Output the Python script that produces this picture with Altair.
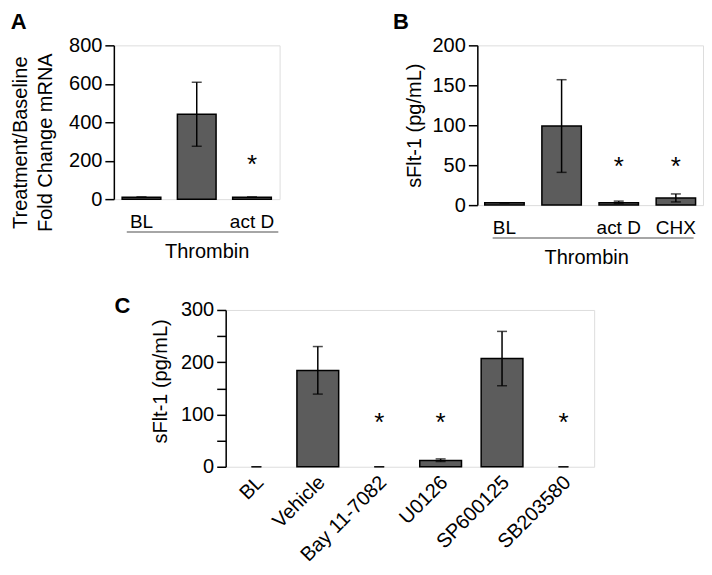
import altair as alt
import pandas as pd

FONT = "Liberation Sans"
BAR_FILL = "#5c5c5c"

# ---------------- Panel A data ----------------
a_cats = ["BL", "Thrombin", "act D"]
a_vals = [10, 441, 10]
a_lo = [10, 275, 10]
a_hi = [10, 608, 10]
a_sig = [False, False, True]
a_star = 195

# ---------------- Panel B data ----------------
b_cats = ["BL", "Thrombin", "act D", "CHX"]
b_vals = [3, 99, 3, 9]
b_lo = [3, 41, 2, 4]
b_hi = [3, 157, 5, 14]
b_sig = [False, False, True, True]
b_star = 52

# ---------------- Panel C data ----------------
c_cats = ["BL", "Vehicle", "Bay 11-7082", "U0126", "SP600125", "SB203580"]
c_vals = [0, 184, 0, 12, 207, 0]
c_lo = [0, 139, 0, 10, 155, 0]
c_hi = [0, 230, 0, 15, 259, 0]
c_sig = [False, False, True, True, False, True]
c_star = 90


def panel(cats, vals, lo, hi, sig, star_level, ymax, tick_vals, label_vals,
          width, height, pad_in, pad_out, ytitle, ytitle_pad, letter, letter_dx,
          letter_offset, rotated=False, group_label=None, ytitle_y=None,
          title_x=None, span=(0.1, 1.0), span_extra=0):
    df = pd.DataFrame({"cat": cats, "value": vals, "lo": lo, "hi": hi,
                       "sig": sig,
                       "star": [star_level if s else None for s in sig]})
    xscale = alt.Scale(domain=cats, paddingInner=pad_in, paddingOuter=pad_out)
    yscale = alt.Scale(domain=[0, ymax], nice=False)

    xaxis_kw = dict(domain=False, ticks=False, labelFontSize=19,
                    labelColor="black", labelFont=FONT, labelOverlap=False)
    if rotated:
        xaxis_kw.update(labelAngle=-45, labelAlign="right", labelBaseline="top",
                        labelPadding=5, labelOffset=-3, labelFontSize=20,
                        title=None)
    else:
        xaxis_kw.update(labelAngle=0, labelPadding=13,
                        labelExpr="datum.label == 'Thrombin' ? '' : datum.label")
        if group_label:
            xaxis_kw.update(title=group_label, titleFontSize=20,
                            titleFontWeight="normal", titleColor="black",
                            titlePadding=10, titleFont=FONT)
            if title_x is not None:
                xaxis_kw["titleX"] = title_x
        else:
            xaxis_kw.update(title=None)
    xaxis = alt.Axis(**xaxis_kw)

    label_expr = "indexof([" + ",".join(str(v) for v in label_vals) + "], datum.value) >= 0 ? datum.label : ''"
    yaxis_kw = dict(values=tick_vals, labelExpr=label_expr, grid=False,
                    labelOverlap=False,
                    domainColor="black", domainWidth=1.5, tickColor="black",
                    tickWidth=1.5, tickSize=9, labelFontSize=20,
                    labelColor="black", labelPadding=3, labelFont=FONT,
                    title=ytitle, titleFontSize=20, titleFontWeight="normal",
                    titleColor="black", titlePadding=ytitle_pad,
                    titleFont=FONT, titleLineHeight=25)
    if ytitle_y is not None:
        yaxis_kw["titleY"] = ytitle_y
    yaxis = alt.Axis(**yaxis_kw)

    def Y(field):
        return alt.Y(field, scale=yscale, axis=yaxis)

    base = alt.Chart(df).encode(x=alt.X("cat:N", scale=xscale, axis=xaxis))

    bars = base.transform_filter("datum.value > 0").mark_bar(
        fill=BAR_FILL, stroke="black", strokeWidth=1.5
    ).encode(y=Y("value:Q"))

    err = base.mark_rule(color="black", strokeWidth=1.5).encode(
        y=Y("lo:Q"), y2="hi:Q")
    cap_lo = base.mark_tick(color="black", thickness=1.5, size=10,
                            orient="horizontal").encode(y=Y("lo:Q"))
    cap_hi = base.mark_tick(color="black", thickness=1.5, size=10,
                            orient="horizontal").encode(y=Y("hi:Q"))
    stars = base.transform_filter("datum.sig").mark_text(
        text="*", fontSize=26, font=FONT, color="black", baseline="middle", dy=3
    ).encode(y=Y("star:Q"))

    layers = [bars, err, cap_lo, cap_hi, stars]

    if group_label:
        span_df = pd.DataFrame({"start": [cats[0]], "end": [cats[-1]]})
        line = alt.Chart(span_df).mark_rule(
            color="#888888", strokeWidth=1.5, x2Offset=span_extra
        ).encode(
            x=alt.X("start:N", scale=xscale, axis=xaxis, bandPosition=span[0]),
            x2=alt.X2("end:N", bandPosition=span[1]),
            y=alt.value(height + 33),
        )
        layers.append(line)

    return alt.layer(*layers).properties(
        width=width, height=height,
        title=alt.TitleParams(letter, anchor="start", frame="bounds",
                              fontSize=22, fontWeight="bold", font=FONT,
                              color="black", dx=letter_dx, offset=letter_offset),
    )


A = panel(a_cats, a_vals, a_lo, a_hi, a_sig, a_star, 800,
          [0, 200, 400, 600, 800], [0, 200, 400, 600, 800],
          166, 154, 0.3, 0.15, ["Treatment/Baseline", "Fold Change mRNA"], 13,
          "A", 0, 1, group_label="Thrombin", ytitle_y=97, title_x=93,
          span=(0.12, 1.0), span_extra=7)

B = panel(b_cats, b_vals, b_lo, b_hi, b_sig, b_star, 200,
          [0, 50, 100, 150, 200], [0, 50, 100, 150, 200],
          226, 160, 0.31, 0.13, "sFlt-1 (pg/mL)", 8,
          "B", -11, 1, group_label="Thrombin", title_x=109, span=(0.2, 0.95))

C = panel(c_cats, c_vals, c_lo, c_hi, c_sig, c_star, 300,
          [0, 50, 100, 150, 200, 250, 300], [0, 100, 200, 300],
          369, 157, 0.32, 0.16, "sFlt-1 (pg/mL)", 10,
          "C", -36, -18, rotated=True, ytitle_y=71)

spacer = alt.Chart(pd.DataFrame({"v": [0]})).mark_point(opacity=0).properties(
    width=1, height=10)

top = alt.hconcat(A, B, spacing=112)
bottom = alt.hconcat(spacer, C, spacing=-4)

chart = alt.vconcat(top, bottom, spacing=26).properties(
    padding={"left": 2, "top": 2, "right": 0, "bottom": 0}
).configure_view(stroke=None).configure(font=FONT)

chart.save("out.html", embed_options={"renderer": "svg", "actions": False})
